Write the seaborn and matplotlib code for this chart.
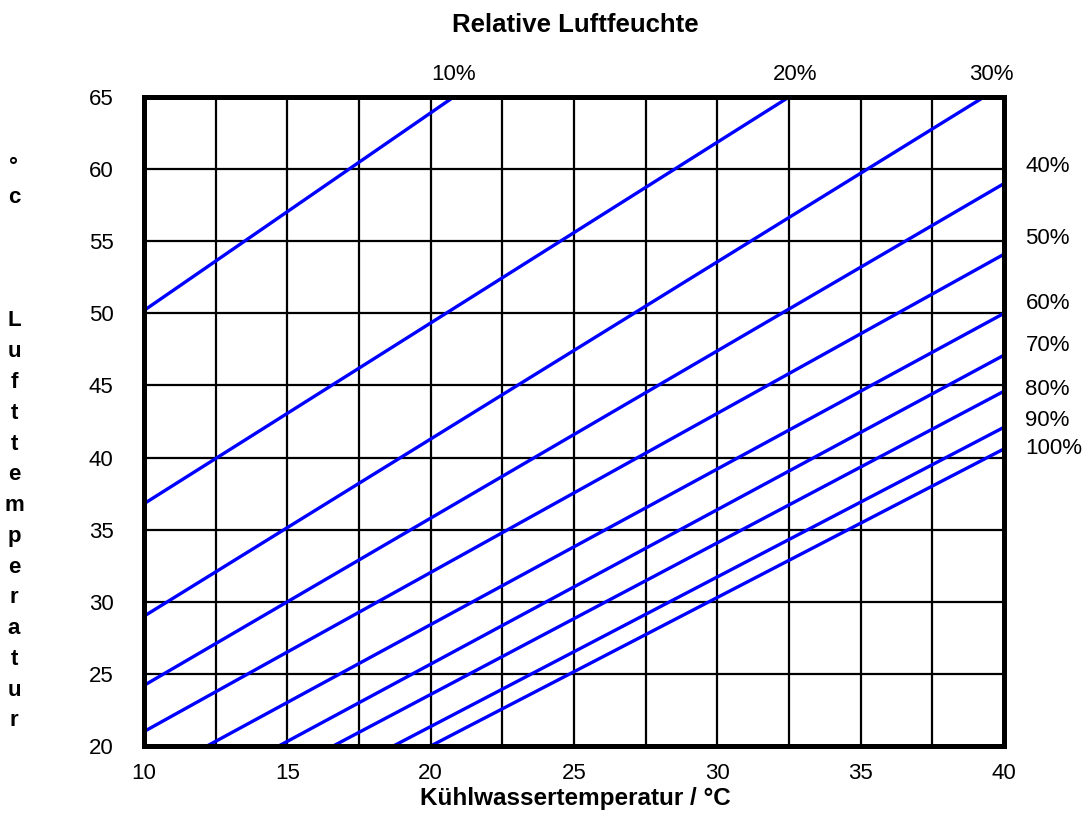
import matplotlib
matplotlib.use("Agg")
import matplotlib.pyplot as plt
import pandas as pd
import seaborn as sns

# relative humidity curves
rh_labels = ['10%', '20%', '30%', '40%', '50%', '60%', '70%', '80%', '90%', '100%']
x_start = [10, 10, 10, 10, 10, 12.2, 14.7, 16.6, 18.7, 20.0]
y_start = [50.2, 36.8, 29.0, 24.2, 21.0, 20, 20, 20, 20, 20]
x_end = [20.8, 32.5, 39.3, 40, 40, 40, 40, 40, 40, 40]
y_end = [65, 65, 65, 59.0, 54.1, 50.0, 47.1, 44.6, 42.1, 40.6]

# label anchors
top_labels = ['10%', '20%', '30%']
top_label_x = [20.8, 32.7, 39.55]
right_labels = ['40%', '50%', '60%', '70%', '80%', '90%', '100%']
right_label_y = [60.2, 55.2, 50.7, 47.8, 44.7, 42.6, 40.6]

x_ticks = [10, 15, 20, 25, 30, 35, 40]
y_ticks = [20, 25, 30, 35, 40, 45, 50, 55, 60, 65]

sns.set_style("white")
plt.rcParams['font.family'] = ['Liberation Sans', 'DejaVu Sans']
plt.rcParams['text.color'] = 'black'
plt.rcParams['xtick.color'] = 'black'
plt.rcParams['ytick.color'] = 'black'

rows = []
for lab, x0, y0, x1, y1 in zip(rh_labels, x_start, y_start, x_end, y_end):
    rows.append({'rh': lab, 'x': x0, 'y': y0})
    rows.append({'rh': lab, 'x': x1, 'y': y1})
df = pd.DataFrame(rows)

fig = plt.figure(figsize=(10.82, 8.38), dpi=100)
ax = fig.add_axes([0.1331, 0.1098, 0.7948, 0.7744])

# grid first so the curves sit on top
for gx in [10 + 2.5 * i for i in range(13)]:
    ax.axvline(gx, color='black', lw=1.6, zorder=1)
for gy in y_ticks:
    ax.axhline(gy, color='black', lw=1.6, zorder=1)

sns.lineplot(data=df, x='x', y='y', hue='rh', palette=['#0000ff'] * len(rh_labels),
             estimator=None, sort=False, legend=False, lw=2.4, ax=ax, zorder=3)

ax.set_xlim(10, 40)
ax.set_ylim(20, 65)
ax.set_xticks(x_ticks)
ax.set_yticks(y_ticks)
ax.tick_params(axis='x', length=0, pad=12, labelsize=16)
ax.tick_params(axis='y', length=0, pad=22, labelsize=16)
ax.set_xlabel('')
ax.set_ylabel('')
for s in ax.spines.values():
    s.set_visible(True)
    s.set_color('black')
    s.set_linewidth(3.6)
    s.set_zorder(5)

for lab, lx in zip(top_labels, top_label_x):
    ax.text(lx, 66.55, lab, ha='center', va='center', fontsize=16, clip_on=False)
for lab, ly in zip(right_labels, right_label_y):
    ax.text(40.75, ly, lab, ha='left', va='center', fontsize=16, clip_on=False)

fig.text(575 / 1082, 1 - 25 / 838, 'Relative Luftfeuchte', ha='center', va='center',
         fontsize=18.5, fontweight='bold')
fig.text(575 / 1082, 1 - 798 / 838, 'Kühlwassertemperatur / °C', ha='center', va='center',
         fontsize=17.5, fontweight='bold')
fig.text(14 / 1082, 1 - 444 / 838,
         '°\nc\n\n\n\nL\nu\nf\nt\nt\ne\nm\np\ne\nr\na\nt\nu\nr',
         ha='center', va='center', fontsize=16, fontweight='bold', linespacing=1.61)

fig.savefig('out.png', dpi=100)
